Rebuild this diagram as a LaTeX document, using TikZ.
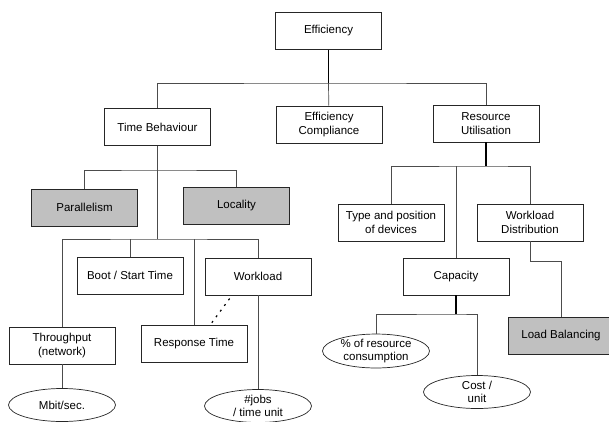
\documentclass[tikz,border=0pt]{standalone}
\usepackage{fontspec}
\setmainfont{Liberation Sans}
\usepackage{xcolor}
\usepackage{tikz}
\usetikzlibrary{positioning,shapes.geometric}
\definecolor{boxgrey}{HTML}{C0C0C0}

\begin{document}
\begin{tikzpicture}[x=1pt,y=-1pt,font=\fontsize{11.5}{13.3}\selectfont,
  box/.style={draw=black!85,line width=0.7pt,minimum width=106pt,minimum height=37pt,align=center,inner sep=1pt},
  greybox/.style={box,fill=boxgrey},
  oval/.style={ellipse,draw=black!85,line width=0.7pt,minimum width=107pt,minimum height=33pt,align=center,inner sep=0pt},
  link/.style={draw=black!70,line width=0.7pt},
  trunk/.style={draw=black,line width=1.5pt},
  dotline/.style={draw=black,line width=1.2pt,dash pattern=on 2pt off 5pt}]
\useasboundingbox (0,0) rectangle (609,421);
% top levels
\node[box] (eff) at (328.5,31) {Efficiency};
\node[box] (tb) at (157.5,127) {Time Behaviour};
\node[box] (ec) at (329,124.5) {Efficiency\\Compliance};
\node[box] (ru) at (486,123.5) {Resource\\Utilisation};
% time behaviour side
\node[greybox] (par) at (84.5,207.5) {Parallelism};
\node[greybox] (loc) at (236.5,206) {Locality};
\node[box] (boot) at (130,275.5) {Boot / Start Time};
\node[box] (wl) at (258,276.5) {Workload};
\node[box] (thr) at (62,345.5) {Throughput\\(network)};
\node[box] (rt) at (194,344) {Response Time};
\node[oval] (mbit) at (62,405) {Mbit/sec.};
\node[oval] (jobs) at (258,406) {\#jobs\\/ time unit};
% resource side
\node[box] (tp) at (391,222.5) {Type and position\\of devices};
\node[box] (wd) at (530,222.5) {Workload\\Distribution};
\node[box] (cap) at (456,276.5) {Capacity};
\node[greybox] (lb) at (561,335.5) {Load Balancing};
\node[oval] (pct) at (376,351) {\% of resource\\consumption};
\node[oval] (cost) at (477,392) {Cost /\\unit};
% buses
\coordinate (topbus) at (328.5,83);
\coordinate (tbbus) at (157.5,170);
\coordinate (lowbus) at (157.5,239);
\coordinate (rubus) at (486,166);
\coordinate (capbus) at (456,314);
% connectors
\draw[trunk] (eff) -- (topbus);
\draw[link] (tb) |- (topbus) -| (ru);
\draw[link] (topbus) -- (ec);
\draw[link] (par) |- (tbbus) -| (loc);
\draw[link] (tb) -- (lowbus);
\draw[link] (thr) |- (lowbus) -| (wl);
\draw[link] (boot) -- (boot |- lowbus);
\draw[link] (rt) -- (rt |- lowbus);
\draw[link] (wl) -- (jobs);
\draw[link] (thr) -- (mbit);
\draw[dotline,shorten <=4pt] ([xshift=-26pt]wl.south) -- ([xshift=16pt]rt.north);
\draw[trunk] (ru) -- (rubus);
\draw[link] (tp) |- (rubus) -| (wd);
\draw[link] (rubus -| cap) -- (cap);
\draw[trunk] (cap) -- (capbus);
\draw[link] (pct) |- (capbus) -| (cost);
\draw[link] (wd.south) -- ++(0,20) -| (lb);
\end{tikzpicture}
\end{document}
